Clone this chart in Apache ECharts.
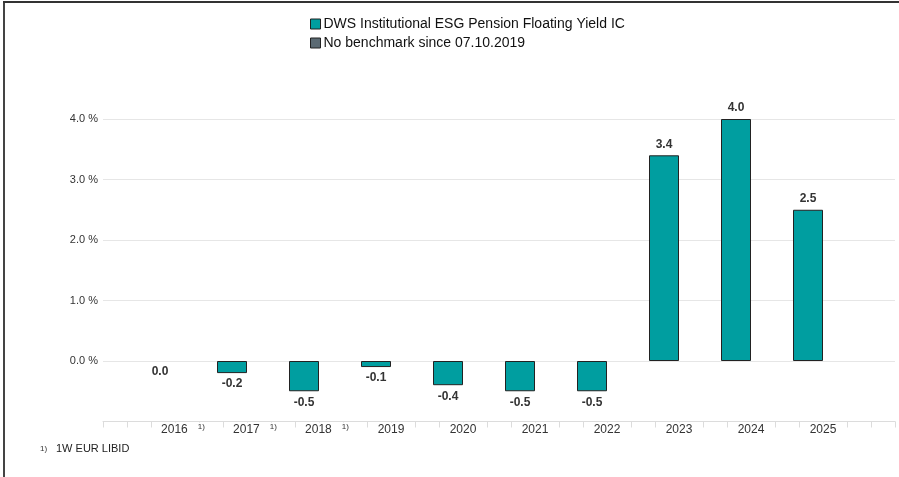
<!DOCTYPE html>
<html>
<head>
<meta charset="utf-8">
<script src="https://cdn.jsdelivr.net/npm/echarts@6/dist/echarts.min.js"></script>
<style>
html,body{margin:0;padding:0;background:#fff;}
#c{width:899px;height:477px;}
</style>
</head>
<body>
<div id="c"></div>
<script>
var categories = ['2016', '2017', '2018', '2019', '2020', '2021', '2022', '2023', '2024', '2025'];
var footnoted = ['2016', '2017', '2018'];
var fundValues = [0.0, -0.2, -0.5, -0.1, -0.4, -0.5, -0.5, 3.4, 4.0, 2.5];
var benchmarkValues = [null, null, null, null, null, null, null, null, null, null];
var yTicks = [-1, 0, 1, 2, 3, 4];
var fundName = 'DWS Institutional ESG Pension Floating Yield IC';
var benchName = 'No benchmark since 07.10.2019';
var footnote = '1W EUR LIBID';

// decoration ticks: 3 per year across the wider axis
var tickSlots = [];
for (var i = 0; i <= 33; i++) tickSlots.push(String(i));

var FONT = 'Liberation Sans, Arial, sans-serif';
var chart = echarts.init(document.getElementById('c'), null, {renderer: 'canvas'});

var option = {
  backgroundColor: '#fff',
  animation: false,
  textStyle: {fontFamily: FONT},
  legend: {
    orient: 'vertical',
    left: 305,
    top: 12,
    itemWidth: 10,
    itemHeight: 10,
    itemGap: 5,
    icon: 'rect',
    textStyle: {fontSize: 14, color: '#111', fontFamily: FONT, padding: [0, 0, 0, -2]},
    data: [
      {name: fundName, itemStyle: {color: '#009ea0', borderColor: '#222', borderWidth: 1}},
      {name: benchName, itemStyle: {color: '#5b6a73', borderColor: '#222', borderWidth: 1}}
    ]
  },
  grid: [
    {left: 103, right: 4, top: 119, bottom: 55.5},
    {left: 139, right: 40, top: 119, bottom: 55.5}
  ],
  xAxis: [
    {
      gridIndex: 0, type: 'category', data: tickSlots, boundaryGap: false,
      axisLine: {onZero: false, lineStyle: {color: '#dcdcdc', width: 1}},
      axisTick: {show: true, length: 6, inside: false, lineStyle: {color: '#dcdcdc'}},
      axisLabel: {show: false},
      splitLine: {show: false}
    },
    {
      gridIndex: 1, type: 'category', data: categories,
      axisLine: {show: false, onZero: false},
      axisTick: {show: false},
      axisLabel: {
        margin: 1,
        interval: 0,
        fontSize: 12,
        color: '#333',
        formatter: function (v) {
          if (footnoted.indexOf(v) >= 0) return '{p|}{y|' + v + '}{s|1)}';
          return '{y|' + v + '}';
        },
        rich: {
          p: {width: 15},
          y: {fontSize: 12, color: '#333', backgroundColor: '#fff', padding: [1, 3, 1, 3], fontFamily: FONT},
          s: {fontSize: 8, color: '#333', verticalAlign: 'top', backgroundColor: '#fff', padding: [0, 2, 4, 7], fontFamily: FONT}
        }
      }
    }
  ],
  yAxis: [
    {
      gridIndex: 0, type: 'value', min: -1, max: 4, interval: 1,
      axisLine: {show: false}, axisTick: {show: false},
      axisLabel: {
        margin: 5, fontSize: 11, color: '#333',
        formatter: function (v) { return v <= -1 ? '' : v.toFixed(1) + ' %'; }
      },
      splitLine: {
        lineStyle: {color: '#e6e6e6', width: 1},
        show: true
      }
    },
    {
      gridIndex: 1, type: 'value', min: -1, max: 4, interval: 1,
      show: false, splitLine: {show: false}
    }
  ],
  series: [
    {
      name: fundName, type: 'bar', xAxisIndex: 1, yAxisIndex: 1,
      barWidth: 30, barGap: '0%',
      itemStyle: {color: '#009ea0', borderColor: '#222', borderWidth: 1},
      data: fundValues.map(function (v) {
        var d = {value: v, label: {position: v > 0 ? 'top' : 'bottom'}};
        if (v === 0) d.itemStyle = {borderWidth: 0, color: 'rgba(0,0,0,0)'};
        return d;
      }),
      label: {
        show: true, distance: 5, fontSize: 12, fontWeight: 'bold', color: '#333',
        formatter: function (p) { return p.value.toFixed(1); }
      },
      z: 3
    },
    {
      name: benchName, type: 'bar', xAxisIndex: 1, yAxisIndex: 1,
      barWidth: 30, barGap: '0%',
      itemStyle: {color: '#5b6a73', borderColor: '#222', borderWidth: 1},
      data: benchmarkValues
    }
  ],
  graphic: [
    {type: 'rect', shape: {x: 3, y: 1, width: 2, height: 476}, style: {fill: '#444'}},
    {type: 'rect', shape: {x: 3, y: 1, width: 896, height: 2}, style: {fill: '#333'}},
    {type: 'text', left: 40, top: 445, style: {text: '1)', fontSize: 8, fill: '#333', fontFamily: FONT}},
    {type: 'text', left: 56, top: 443, style: {text: footnote, fontSize: 11, fill: '#222', fontFamily: FONT}}
  ]
};
chart.setOption(option);
</script>
</body>
</html>
